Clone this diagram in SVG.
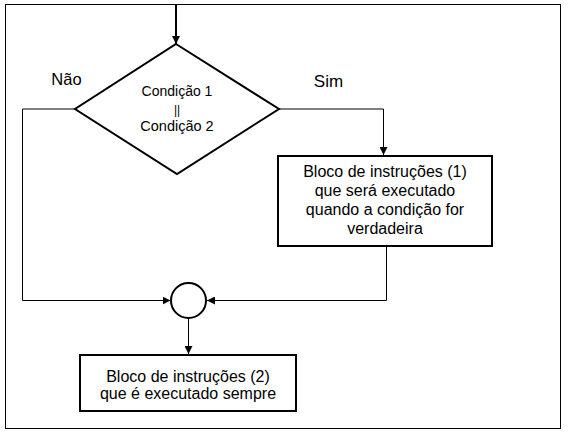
<svg xmlns="http://www.w3.org/2000/svg" width="569" height="433" viewBox="0 0 569 433">
<style>
.t{font-family:"Liberation Sans",Arial,sans-serif;fill:#000;text-anchor:middle}
.n{fill:#fff;stroke:#000;stroke-width:2}
.c{fill:none;stroke:#000;stroke-width:1}
</style>
<defs>
<marker id="a" viewBox="0 0 10 10" refX="10" refY="5" markerWidth="8" markerHeight="8" markerUnits="userSpaceOnUse" orient="auto">
<path d="M0,0 L10,5 L0,10 Z" fill="#000"/>
</marker>
</defs>
<rect x="0" y="0" width="569" height="433" fill="#fff"/>
<rect x="5.5" y="4.5" width="555" height="424" fill="none" stroke="#000" stroke-width="1"/>
<g id="connectors">
<line x1="176" y1="5" x2="176" y2="44" stroke="#000" stroke-width="2" marker-end="url(#a)"/>
<polyline class="c" points="279,109 383.5,109 383.5,155" marker-end="url(#a)"/>
<polyline class="c" points="75,109 22.5,109 22.5,300.5 170.5,300.5" marker-end="url(#a)"/>
<polyline class="c" points="386.5,246 386.5,300.5 207,300.5" marker-end="url(#a)"/>
<line class="c" x1="188.5" y1="319" x2="188.5" y2="354" marker-end="url(#a)"/>
</g>
<g id="decision">
<polygon class="n" points="176,44 279,109 177,174 75,109"/>
<text class="t" x="177" y="96" font-size="14">Condição 1</text>
<text class="t" x="177" y="114" font-size="12">||</text>
<text class="t" x="177" y="131" font-size="14.5">Condição 2</text>
</g>
<g id="label-nao"><text class="t" x="66.5" y="85" font-size="16.5">Não</text></g>
<g id="label-sim"><text class="t" x="328.5" y="87" font-size="17">Sim</text></g>
<g id="block1">
<rect class="n" x="278" y="156" width="214" height="90"/>
<text class="t" x="385" y="177" font-size="16">Bloco de instruções (1)</text>
<text class="t" x="385" y="196" font-size="16">que será executado</text>
<text class="t" x="385" y="215" font-size="16">quando a condição for</text>
<text class="t" x="385" y="234" font-size="16">verdadeira</text>
</g>
<g id="junction">
<circle class="n" cx="188.5" cy="300.5" r="17.5"/>
</g>
<g id="block2">
<rect class="n" x="80" y="355" width="216" height="56"/>
<text class="t" x="188" y="382" font-size="16">Bloco de instruções (2)</text>
<text class="t" x="188" y="399" font-size="16">que é executado sempre</text>
</g>
</svg>
